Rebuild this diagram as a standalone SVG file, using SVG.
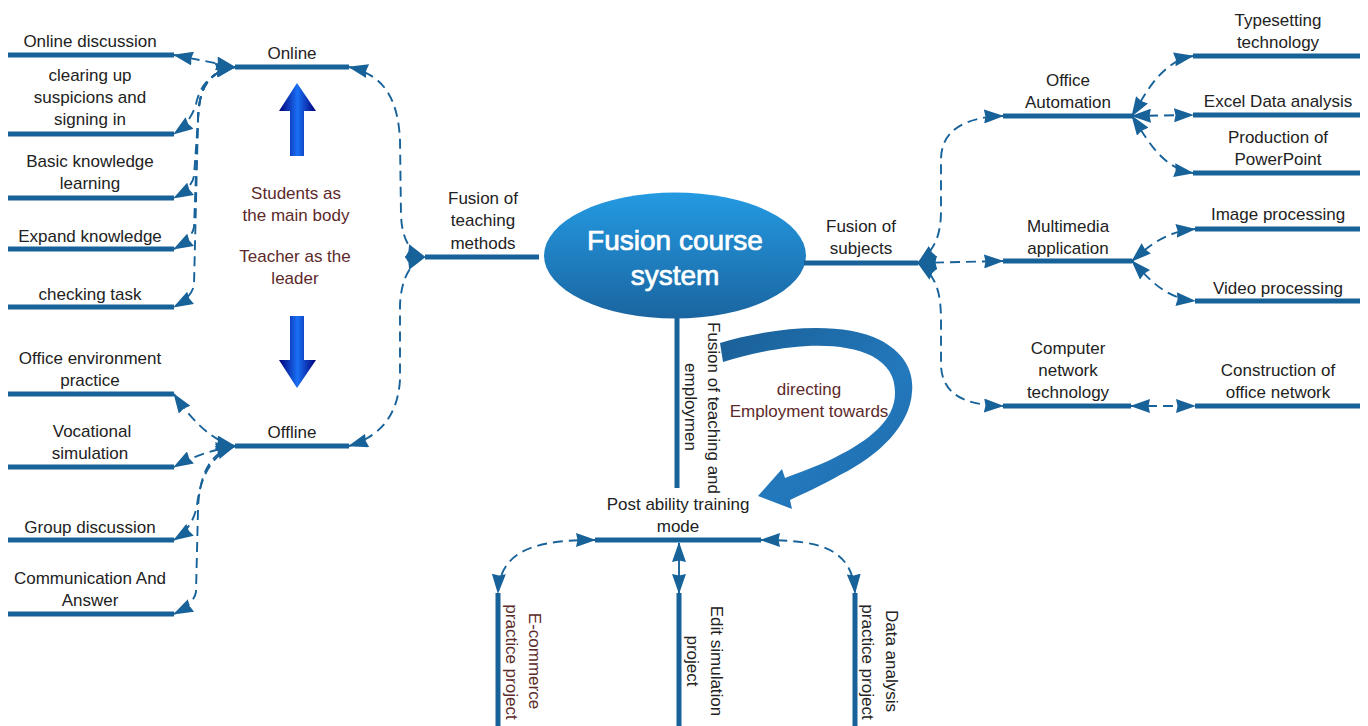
<svg xmlns="http://www.w3.org/2000/svg" width="1368" height="726" viewBox="0 0 1368 726">
<defs>
<style>
text{font-family:"Liberation Sans",Arial,sans-serif;font-size:17px;fill:#222;text-anchor:middle}
.br{fill:#5c2a2a}
.bar{stroke:#18629a;stroke-width:5;fill:none}
.dash{stroke:#18629a;stroke-width:1.9;fill:none;stroke-dasharray:10 6;marker-start:url(#arr);marker-end:url(#arr)}
.solid{stroke:#18629a;stroke-width:1.9;fill:none;marker-start:url(#arr);marker-end:url(#arr)}
.title{font-size:28px;fill:#fff;stroke:#fff;stroke-width:0.7}
</style>
<marker id="arr" viewBox="0 0 20 14" refX="19" refY="7" markerWidth="20" markerHeight="14" markerUnits="userSpaceOnUse" orient="auto-start-reverse">
<path d="M0,0 L20,7 L0,14 L1.5,7 Z" fill="#18629a"/>
</marker>
<linearGradient id="blk" x1="0" y1="0" x2="1" y2="0">
<stop offset="0" stop-color="#00007a"/>
<stop offset="0.5" stop-color="#1a70f5"/>
<stop offset="1" stop-color="#00007a"/>
</linearGradient>
<linearGradient id="ell" x1="0" y1="0" x2="0" y2="1">
<stop offset="0" stop-color="#249ae2"/>
<stop offset="1" stop-color="#1a65a0"/>
</linearGradient>
<linearGradient id="curv" x1="0" y1="0" x2="1" y2="1">
<stop offset="0" stop-color="#1a5f96"/>
<stop offset="0.6" stop-color="#2379bd"/>
<stop offset="1" stop-color="#1b65a3"/>
</linearGradient>
</defs>

<g id="connectors">
<path class="dash" d="M174,55 L235,67"/>
<path class="dash" d="M235,67 C210,72 200,86 196,104 Q191,122 174,134"/>
<path class="dash" d="M235,67 C205,72 199,92 198,120 L194,176 Q192,188 174,198"/>
<path class="dash" d="M235,67 C205,72 199,92 198,120 L194,227 Q192,239 174,249"/>
<path class="dash" d="M235,67 C205,72 199,92 198,120 L194,285 Q192,297 174,307"/>
<path class="dash" d="M235,446 Q205,440 174,394"/>
<path class="dash" d="M235,446 Q200,452 174,467"/>
<path class="dash" d="M235,446 C210,455 200,480 197,505 Q193,528 174,540"/>
<path class="dash" d="M235,446 C210,452 199,475 198,510 L196,592 Q194,604 174,614"/>
<path class="dash" d="M349,67 C385,75 398,100 400,140 L401,215 C402,240 410,252 425,257"/>
<path class="dash" d="M349,446 C385,435 398,410 400,380 L400,305 C401,280 410,262 425,257"/>
<path class="dash" d="M918,263 C935,250 941,235 941,210 L941,160 C941,130 965,117 1003,116"/>
<path class="dash" d="M918,263 L1003,261"/>
<path class="dash" d="M918,263 C935,275 941,290 941,320 L941,365 C942,395 965,405 1003,406"/>
<path class="dash" d="M1132,116 C1145,95 1160,62 1193,56"/>
<path class="dash" d="M1132,116 L1193,115"/>
<path class="dash" d="M1132,116 C1145,135 1160,168 1193,173"/>
<path class="dash" d="M1132,261 C1150,245 1165,232 1195,229"/>
<path class="dash" d="M1132,261 C1150,280 1165,298 1195,301"/>
<path class="dash" d="M1131,406 L1195,406"/>
<path class="dash" d="M595,540 C540,540 500,548 498,593"/>
<path class="solid" d="M679,543 L679,593"/>
<path class="dash" d="M761,540 C820,540 852,548 855,593"/>
</g>

<g id="n-online-discussion"><line class="bar" x1="8" y1="55" x2="174" y2="55"/><text x="90" y="47">Online discussion</text></g>
<g id="n-clearing"><line class="bar" x1="8" y1="134" x2="174" y2="134"/><text x="90" y="81">clearing up</text><text x="90" y="103">suspicions and</text><text x="90" y="125">signing in</text></g>
<g id="n-basic"><line class="bar" x1="8" y1="198" x2="174" y2="198"/><text x="90" y="167">Basic knowledge</text><text x="90" y="189">learning</text></g>
<g id="n-expand"><line class="bar" x1="8" y1="249" x2="174" y2="249"/><text x="90" y="242">Expand knowledge</text></g>
<g id="n-checking"><line class="bar" x1="8" y1="307" x2="174" y2="307"/><text x="90" y="300">checking task</text></g>
<g id="n-office-env"><line class="bar" x1="8" y1="394" x2="174" y2="394"/><text x="90" y="364">Office environment</text><text x="90" y="386">practice</text></g>
<g id="n-vocational"><line class="bar" x1="8" y1="467" x2="174" y2="467"/><text x="92" y="437">Vocational</text><text x="90" y="459">simulation</text></g>
<g id="n-group"><line class="bar" x1="8" y1="540" x2="174" y2="540"/><text x="90" y="533">Group discussion</text></g>
<g id="n-communication"><line class="bar" x1="8" y1="614" x2="174" y2="614"/><text x="90" y="584">Communication And</text><text x="90" y="606">Answer</text></g>

<g id="n-online"><line class="bar" x1="235" y1="67" x2="349" y2="67"/><text x="292" y="59">Online</text></g>
<g id="n-offline"><line class="bar" x1="235" y1="446" x2="349" y2="446"/><text x="292" y="438">Offline</text></g>

<g id="n-center-labels">
<path d="M297,83 L316,111 L304,111 L304,156 L290,156 L290,111 L279,111 Z" fill="url(#blk)"/>
<path d="M290,316 L304,316 L304,360 L316,360 L297,388 L279,360 L290,360 Z" fill="url(#blk)"/>
<text class="br" x="296" y="199">Students as</text>
<text class="br" x="296" y="221">the main body</text>
<text class="br" x="295" y="262">Teacher as the</text>
<text class="br" x="295" y="284">leader</text>
</g>

<g id="n-teaching-methods"><line class="bar" x1="425" y1="257" x2="539" y2="257"/><text x="483" y="204">Fusion of</text><text x="483" y="226">teaching</text><text x="483" y="249">methods</text></g>

<g id="n-fusion-course">
<line class="bar" x1="677" y1="316" x2="677" y2="488"/>
<ellipse cx="675" cy="255.5" rx="131" ry="63" fill="url(#ell)"/>
<text class="title" x="675" y="250">Fusion course</text>
<text class="title" x="675" y="285">system</text>
<text transform="translate(714,408) rotate(90)" y="6">Fusion of teaching and</text>
<text transform="translate(691,407) rotate(90)" y="6">employmen</text>
</g>

<g id="n-subjects"><line class="bar" x1="804" y1="263" x2="918" y2="263"/><text x="861" y="232">Fusion of</text><text x="861" y="254">subjects</text></g>

<g id="n-office-auto"><line class="bar" x1="1003" y1="116" x2="1132" y2="116"/><text x="1068" y="86">Office</text><text x="1068" y="108">Automation</text></g>
<g id="n-typesetting"><line class="bar" x1="1193" y1="56" x2="1360" y2="56"/><text x="1278" y="26">Typesetting</text><text x="1278" y="48">technology</text></g>
<g id="n-excel"><line class="bar" x1="1193" y1="115" x2="1360" y2="115"/><text x="1278" y="107">Excel Data analysis</text></g>
<g id="n-ppt"><line class="bar" x1="1193" y1="173" x2="1360" y2="173"/><text x="1278" y="143">Production of</text><text x="1278" y="165">PowerPoint</text></g>

<g id="n-multimedia"><line class="bar" x1="1003" y1="261" x2="1132" y2="261"/><text x="1068" y="232">Multimedia</text><text x="1068" y="254">application</text></g>
<g id="n-image"><line class="bar" x1="1195" y1="229" x2="1360" y2="229"/><text x="1278" y="220">Image processing</text></g>
<g id="n-video"><line class="bar" x1="1195" y1="301" x2="1360" y2="301"/><text x="1278" y="294">Video processing</text></g>

<g id="n-network"><line class="bar" x1="1003" y1="406" x2="1131" y2="406"/><text x="1068" y="354">Computer</text><text x="1068" y="376">network</text><text x="1068" y="398">technology</text></g>
<g id="n-construction"><line class="bar" x1="1195" y1="406" x2="1360" y2="406"/><text x="1278" y="376">Construction of</text><text x="1278" y="398">office network</text></g>

<g id="n-directing">
<path d="M720,343 C770,328 840,320 880,340 C905,353 914,372 912,392 C910,425 880,455 840,475 C822,485 805,493 790,500 L792,509 L758,496 L782,469 L785,478 C800,472 818,466 834,458 C870,440 895,420 895,393 C895,376 888,365 872,356 C835,338 775,346 723,362 Z" fill="url(#curv)"/>
<text class="br" x="809" y="395">directing</text>
<text class="br" x="809" y="417">Employment towards</text>
</g>

<g id="n-post"><line class="bar" x1="595" y1="540" x2="761" y2="540"/><text x="678" y="510">Post ability training</text><text x="678" y="532">mode</text></g>

<g id="n-ecommerce"><line class="bar" x1="498" y1="593" x2="498" y2="726"/>
<text class="br" transform="translate(535,661) rotate(90)" y="6">E-commerce</text>
<text class="br" transform="translate(512,662) rotate(90)" y="6">practice project</text></g>
<g id="n-edit"><line class="bar" x1="679" y1="593" x2="679" y2="726"/>
<text transform="translate(717,661) rotate(90)" y="6">Edit simulation</text>
<text transform="translate(693,661) rotate(90)" y="6">project</text></g>
<g id="n-data"><line class="bar" x1="855" y1="593" x2="855" y2="726"/>
<text transform="translate(892,661) rotate(90)" y="6">Data analysis</text>
<text transform="translate(868,662) rotate(90)" y="6">practice project</text></g>
</svg>
